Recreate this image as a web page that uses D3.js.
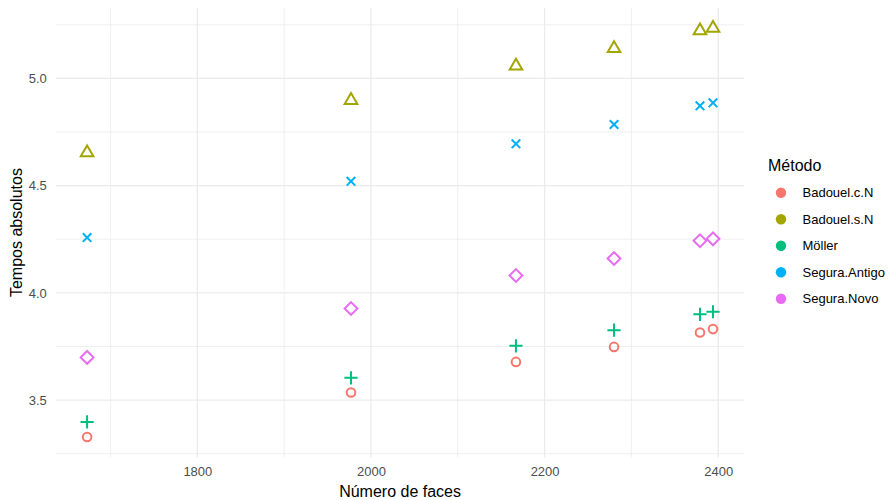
<!DOCTYPE html>
<html>
<head>
<meta charset="utf-8">
<script src="https://cdn.jsdelivr.net/npm/d3@7"></script>
<style>
body{margin:0;background:#fff}
text{font-family:"Liberation Sans",Arial,sans-serif}
</style>
</head>
<body>
<div id="chart"></div>
<script>
'use strict'
const width=891,height=500
const faces=[1673,1977,2167,2280,2379,2394]
const badouelCN=[3.328,3.535,3.678,3.748,3.815,3.831]
const badouelSN=[4.654,4.898,5.058,5.140,5.223,5.234]
const moller=[3.398,3.604,3.753,3.826,3.900,3.912]
const seguraAntigo=[4.258,4.520,4.695,4.785,4.872,4.886]
const seguraNovo=[3.699,3.927,4.081,4.160,4.243,4.252]
const metodos=['Badouel.c.N','Badouel.s.N','Möller','Segura.Antigo','Segura.Novo']
const shapes=['circle','triangle','plus','cross','diamond']
const colors=['#F8766D','#A3A500','#00BF7D','#00B0F6','#E76BF3']
const xTicks=[1800,2000,2200,2400]
const xMinor=[1700,1900,2100,2300]
const yTicks=[3.5,4.0,4.5,5.0]
const yMinor=[3.25,3.75,4.25,4.75,5.25]

let series=[badouelCN,badouelSN,moller,seguraAntigo,seguraNovo]
let points=[]
series.forEach(function(s,k){s.forEach(function(v,i){points.push({x:faces[i],y:v,k:k})})})

let panel={left:55.8,right:744.3,top:7.8,bottom:457.4}
function expand(ext){let d=(ext[1]-ext[0])*0.05;return[ext[0]-d,ext[1]+d]}
let x=d3.scaleLinear().domain(expand(d3.extent(faces))).range([panel.left,panel.right])
let y=d3.scaleLinear().domain(expand(d3.extent(points,d=>d.y))).range([panel.bottom,panel.top])

function shapePath(s){
if(s=='circle'){let r=4.3;return 'M'+(-r)+',0A'+r+','+r+' 0 1,0 '+r+',0A'+r+','+r+' 0 1,0 '+(-r)+',0Z'}
if(s=='triangle')return 'M0,-7.2L6.3,3.6L-6.3,3.6Z'
if(s=='plus')return 'M-6.6,0L6.6,0M0,-6.6L0,6.6'
if(s=='cross')return 'M-4.3,-4.3L4.3,4.3M-4.3,4.3L4.3,-4.3'
if(s=='diamond')return 'M0,-6.4L6.4,0L0,6.4L-6.4,0Z'}

let svg=d3.select('#chart').append('svg').attr('width',width).attr('height',height)

// grid
let grid=svg.append('g')
grid.selectAll('.xmin').data(xMinor).enter().append('line').attr('x1',d=>x(d)).attr('x2',d=>x(d)).attr('y1',panel.top).attr('y2',panel.bottom).attr('stroke','#EBEBEB').attr('stroke-width',0.8)
grid.selectAll('.ymin').data(yMinor).enter().append('line').attr('y1',d=>y(d)).attr('y2',d=>y(d)).attr('x1',panel.left).attr('x2',panel.right).attr('stroke','#EBEBEB').attr('stroke-width',0.8)
grid.selectAll('.xmaj').data(xTicks).enter().append('line').attr('x1',d=>x(d)).attr('x2',d=>x(d)).attr('y1',panel.top).attr('y2',panel.bottom).attr('stroke','#EBEBEB').attr('stroke-width',1.3)
grid.selectAll('.ymaj').data(yTicks).enter().append('line').attr('y1',d=>y(d)).attr('y2',d=>y(d)).attr('x1',panel.left).attr('x2',panel.right).attr('stroke','#EBEBEB').attr('stroke-width',1.3)

// axes
let xAxis=d3.axisBottom(x).tickValues(xTicks).tickSize(0).tickPadding(9).tickFormat(d3.format('d'))
let yAxis=d3.axisLeft(y).tickValues(yTicks).tickSize(0).tickPadding(9).tickFormat(d3.format('.1f'))
let gx=svg.append('g').attr('transform','translate(0,'+panel.bottom+')').call(xAxis)
let gy=svg.append('g').attr('transform','translate('+panel.left+',0)').call(yAxis)
gx.select('.domain').remove();gy.select('.domain').remove()
svg.selectAll('.tick text').attr('font-family','"Liberation Sans",Arial,sans-serif').attr('font-size','13px').attr('fill','#4D4D4D')

svg.append('text').attr('x',(panel.left+panel.right)/2).attr('y',497).attr('text-anchor','middle').attr('font-size','16px').attr('fill','#000').text('Número de faces')
svg.append('text').attr('transform','translate(21.5,'+((panel.top+panel.bottom)/2)+')rotate(-90)').attr('text-anchor','middle').attr('font-size','16px').attr('fill','#000').text('Tempos absolutos')

// points
svg.append('g').selectAll('path').data(points).enter().append('path')
.attr('transform',d=>'translate('+x(d.x)+','+y(d.y)+')')
.attr('d',d=>shapePath(shapes[d.k]))
.attr('fill','none').attr('stroke',d=>colors[d.k]).attr('stroke-width',2)

// legend
let lg=svg.append('g').attr('transform','translate(768,0)')
lg.append('text').attr('x',0).attr('y',170.5).attr('font-size','16px').attr('fill','#000').text('Método')
let item=lg.selectAll('.legend').data(metodos).enter().append('g').attr('class','legend').attr('transform',(d,i)=>'translate(0,'+(192.7+i*26.5)+')')
item.append('circle').attr('cx',13).attr('cy',0).attr('r',5.2).attr('fill',(d,i)=>colors[i])
item.append('text').attr('x',34.5).attr('y',0).attr('dy','0.35em').attr('font-size','13px').attr('fill','#000').text(d=>d)
</script>
</body>
</html>
